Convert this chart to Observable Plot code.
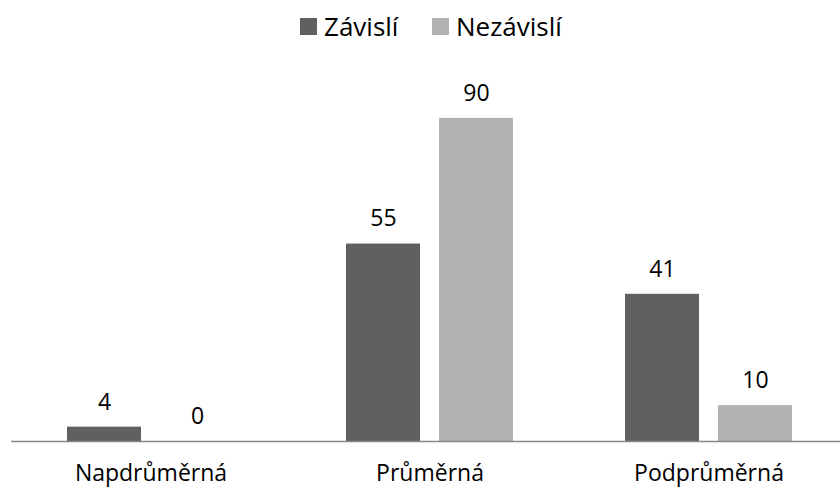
<!DOCTYPE html>
<html>
<head>
<meta charset="utf-8">
<script src="https://cdn.jsdelivr.net/npm/d3@7"></script>
<script src="https://cdn.jsdelivr.net/npm/@observablehq/plot@0.6"></script>
<style>
  html, body { margin: 0; padding: 0; background: #fff; }
  body { width: 840px; height: 488px; overflow: hidden; font-family: "Open Sans", sans-serif; }
  #legend { height: 45px; position: relative; font-size: 26px; color: #000; }
  .item { position: absolute; top: 0; height: 52px; display: flex; align-items: center; gap: 7px; line-height: 1; }
  .sw { width: 17px; height: 17px; display: inline-block; }
</style>
</head>
<body>
<div id="legend"></div>
<div id="chart"></div>
<script>
const categories = ["Napdrůměrná", "Průměrná", "Podprůměrná"];
const series = ["Závislí", "Nezávislí"];
const zavisli = [4, 55, 41];
const nezavisli = [0, 90, 10];
const colors = ["#606060", "#b2b2b2"];

const data = [];
categories.forEach((c, i) => {
  data.push({category: c, series: series[0], value: zavisli[i]});
  data.push({category: c, series: series[1], value: nezavisli[i]});
});

const legend = document.getElementById("legend");
const legendLeft = [300, 432];
series.forEach((s, i) => {
  const it = document.createElement("div");
  it.className = "item";
  it.style.left = legendLeft[i] + "px";
  const sw = document.createElement("span");
  sw.className = "sw";
  sw.style.background = colors[i];
  const t = document.createElement("span");
  t.textContent = s;
  it.appendChild(sw); it.appendChild(t);
  legend.appendChild(it);
});

const chart = Plot.plot({
  width: 840,
  height: 443,
  marginLeft: 10,
  marginRight: 0,
  marginTop: 37,
  marginBottom: 47,
  style: {fontFamily: "'Open Sans', sans-serif", fontSize: "23px", color: "#000"},
  fx: {domain: categories, padding: 0, range: [10.5, 847.5], label: null, tickSize: 0, tickPadding: 23},
  x: {domain: series, paddingInner: 0.204, paddingOuter: 0.602, axis: null},
  y: {domain: [0, 100], axis: null},
  color: {domain: series, range: colors},
  marks: [
    Plot.barY(data, {fx: "category", x: "series", y: "value", fill: "series"}),
    Plot.ruleY([0], {stroke: "#888", strokeWidth: 1.5}),
    Plot.text(data, {fx: "category", x: "series", y: "value", text: d => String(d.value), dy: -25, fill: "#000", fontSize: 23})
  ]
});
document.getElementById("chart").appendChild(chart);
</script>
</body>
</html>
